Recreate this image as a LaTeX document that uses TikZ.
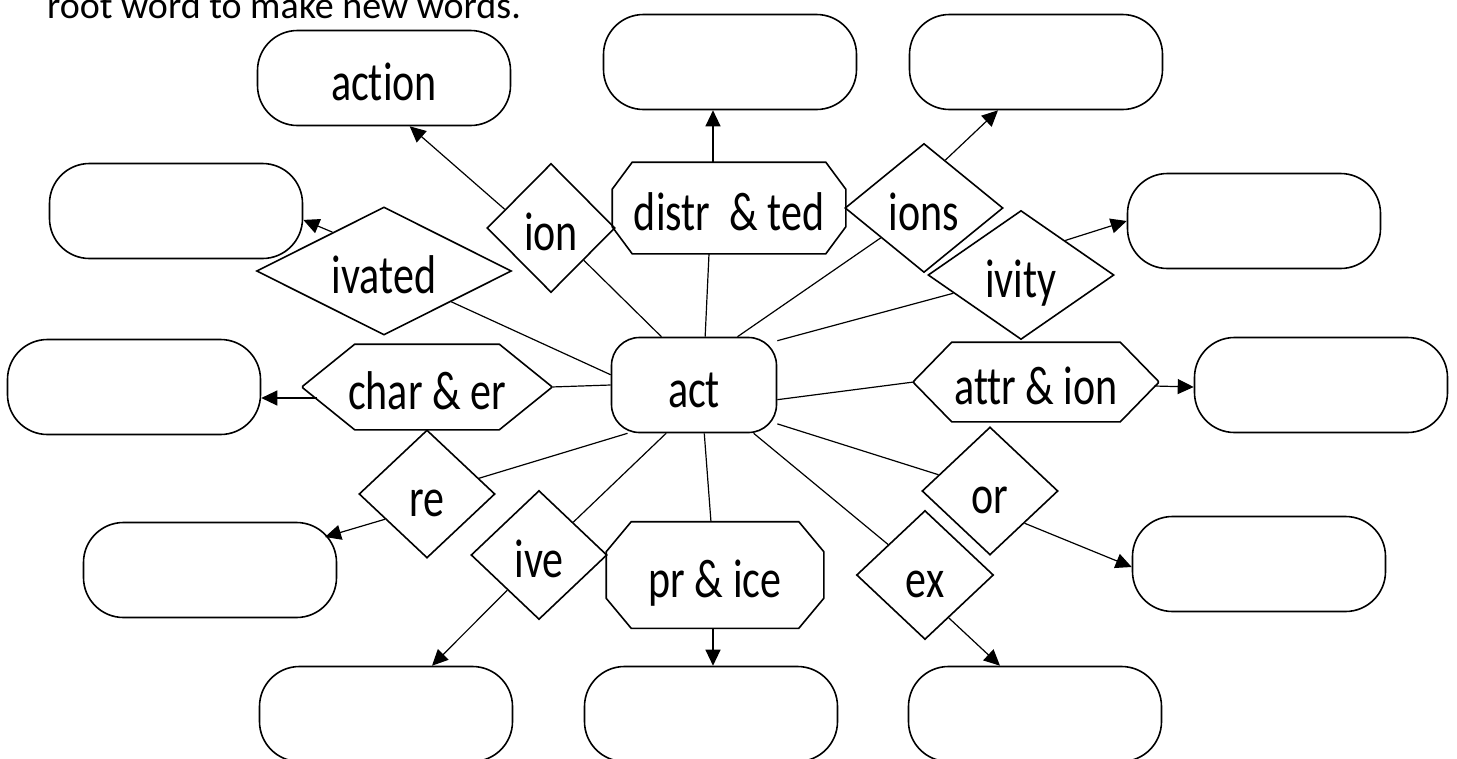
\documentclass[tikz,border=0pt]{standalone}
\usepackage{fontspec}
\setmainfont{Carlito}[Ligatures=NoCommon]
\usepackage{graphicx}
\usetikzlibrary{shapes.geometric,arrows.meta}

\newcommand{\tall}[1]{\scalebox{1}[1.3]{#1}}
% cut corners round a plain box: name, x cut, y cut
\newcommand{\cutbox}[3]{\draw ([xshift=#2pt]#1.north west) -- ([xshift=-#2pt]#1.north east) -- ([yshift=-#3pt]#1.north east) -- ([yshift=#3pt]#1.south east) -- ([xshift=-#2pt]#1.south east) -- ([xshift=#2pt]#1.south west) -- ([yshift=#3pt]#1.south west) -- ([yshift=-#3pt]#1.north west) -- cycle;}

\begin{document}
\begin{tikzpicture}[x=1pt,y=-1pt,line width=1.6pt,
  lbl/.style={font=\fontsize{42}{50}\selectfont,text height=46pt,text depth=2pt},
  word/.style={draw,rectangle,rounded corners=40pt,minimum width=253pt,minimum height=95pt,inner sep=0pt,lbl},
  root/.style={draw,rectangle,rounded corners=28pt,minimum width=165pt,minimum height=95pt,inner sep=0pt,lbl},
  cut/.style={rectangle,inner sep=0pt,lbl},
  fix/.style={draw,diamond,inner sep=0pt,lbl},
  link/.style={line width=1.2pt},
  >={Triangle[length=16pt,width=15pt]}]

\useasboundingbox (0,0) rectangle (1457,758);

\node[anchor=base west,font=\fontsize{38}{46}\selectfont](intro) at (43,18) {root word to make new words.};

% word boxes
\node[word](action) at (384,78) {\tall{action}};
\node[word](topmid) at (730,62) {};
\node[word](topright) at (1036,62) {};
\node[word](leftup) at (176,211) {};
\node[word](rightup) at (1254,221) {};
\node[word](leftmid) at (134,387) {};
\node[word](rightmid) at (1321,385) {};
\node[word](leftlow) at (210,570) {};
\node[word](rightlow) at (1259,564) {};
\node[word](botleft) at (386,714) {};
\node[word](botmid) at (711,714) {};
\node[word](botright) at (1035,714) {};

\node[root](act) at (694,385) {\tall{act}};

% affixes
\node[cut,minimum width=232pt,minimum height=90pt](distr) at (729,208) {\tall{distr\ \ \&\ ted}};
\node[cut,minimum width=216pt,minimum height=105pt](pr) at (715,575) {\tall{pr \& ice}};
\node[cut,minimum width=247pt,minimum height=84pt](char) at (427,387) {\tall{char \& er}};
\node[cut,minimum width=243pt,minimum height=78pt](attr) at (1036,382) {\tall{attr \& ion}};
\cutbox{distr}{20}{27}
\cutbox{pr}{25}{30}
\cutbox{char}{52}{42}
\cutbox{attr}{38}{39}

\node[fix,minimum width=128pt,minimum height=129pt](ion) at (551,228) {\tall{ion}};
\node[fix,minimum width=255pt,minimum height=128pt,aspect=2](ivated) at (384,271) {\tall{ivated}};
\node[fix,minimum width=158pt,minimum height=129pt,aspect=1.22](ions) at (924,208) {\tall{ions}};
\node[fix,minimum width=186pt,minimum height=129pt,aspect=1.44](ivity) at (1021,275) {\tall{ivity}};
\node[fix,minimum width=136pt,minimum height=128pt,aspect=1.06](re) at (427,494) {\tall{re}};
\node[fix,minimum width=136pt,minimum height=129pt,aspect=1.06](ive) at (539,555) {\tall{ive}};
\node[fix,minimum width=136pt,minimum height=128pt,aspect=1.06](or) at (990,491) {\tall{or}};
\node[fix,minimum width=137pt,minimum height=129pt,aspect=1.06](ex) at (925,575) {\tall{ex}};

\path[link](act.124) edge (ion)
  (act.77) edge ([xshift=-20pt]distr.south)
  (act.48) edge (ions)
  (act.28) edge (ivity)
  (act.173) edge (ivated)
  (act.west) edge (char.east)
  (act.-10) edge (attr.west)
  (act.-25) edge (or)
  (act.-144) edge (re)
  (act.-120) edge (ive)
  (act.-78) edge (pr)
  (act.-39) edge (ex);

\path[link,->](ion.158) edge (action.-62)
  ([xshift=-16pt]distr.north) edge ([xshift=-17pt]topmid.south)
  (ions.66) edge ([xshift=-38pt]topright.south)
  (ivity.38) edge (rightup.west)
  (ivated.143) edge (leftup.-4)
  ([shift={(14pt,-11pt)}]char.west) edge ([yshift=-11pt]leftmid.east)
  ([shift={(-4pt,-4pt)}]attr.east) edge ([yshift=-2pt]rightmid.west)
  (re.-149) edge ([shift={(115pt,33pt)}]leftlow.center)
  (ive.-132) edge ([xshift=46pt]botleft.north)
  ([xshift=-2pt]pr.south) edge ([xshift=2pt]botmid.north)
  (or.-43) edge ([yshift=-3pt]rightlow.west)
  (ex.-61) edge ([xshift=-35pt]botright.north);

\end{tikzpicture}
\end{document}
